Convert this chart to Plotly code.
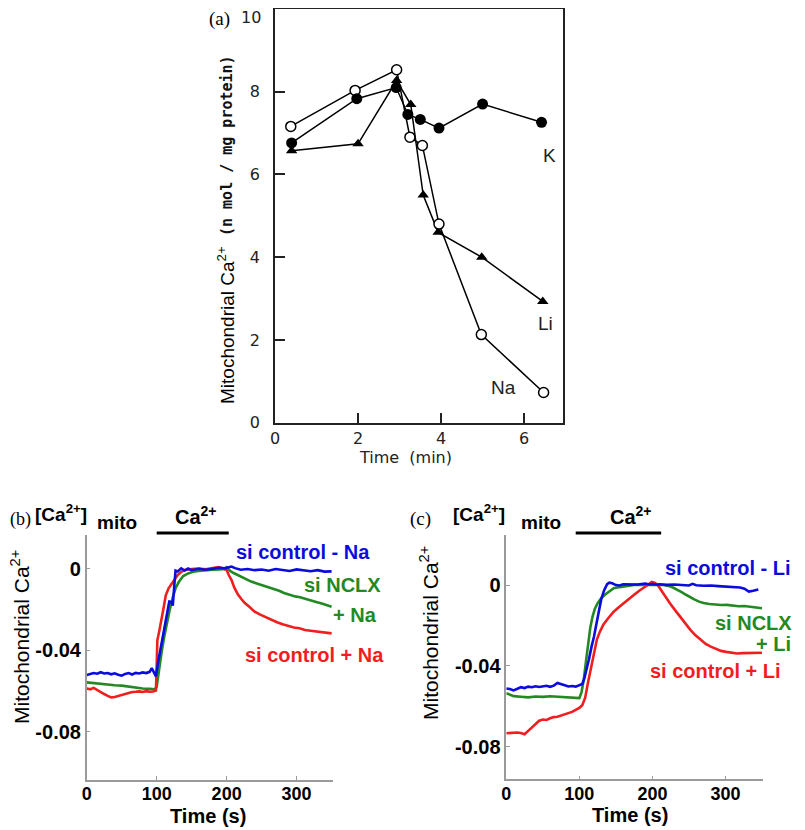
import plotly.graph_objects as go

# ---------------- Panel (a) data ----------------
TIME_K = [0.4, 1.97, 2.92, 3.2, 3.5, 3.95, 5.0, 6.42]
CA_K = [6.76, 7.83, 8.1, 7.45, 7.33, 7.12, 7.7, 7.26]
TIME_NA = [0.38, 1.93, 2.93, 3.25, 3.55, 3.95, 4.97, 6.47]
CA_NA = [7.16, 8.03, 8.53, 6.9, 6.7, 4.8, 2.13, 0.73]
TIME_LI = [0.4, 2.0, 2.93, 3.27, 3.57, 3.93, 4.98, 6.45]
CA_LI = [6.57, 6.74, 8.27, 7.69, 5.5, 4.6, 4.0, 2.93]
A_XTICKS = [0, 2, 4, 6]
A_YTICKS = [0, 2, 4, 6, 8, 10]
A_YTICKTEXT = ["0", "2", "4", "6", "8", ""]
A_TOP_LABEL = "10"

# ---------------- Panel (b) data (Na) ----------------
B_BLUE_T = [0, 5, 10, 15, 20, 25, 30, 35, 40, 45, 50, 55, 60, 65, 70, 75, 80, 85, 90, 93, 96, 99,
            102, 106, 110, 114, 118, 121, 123, 125, 127, 130, 135, 140, 145, 150, 160, 170, 180, 190,
            197, 202, 207, 212, 220, 230, 240, 250, 260, 270, 280, 290, 300, 310, 320, 330, 340, 350]
B_BLUE_V = [-0.0522, -0.0518, -0.0512, -0.0515, -0.0508, -0.0514, -0.0512, -0.0518, -0.0513, -0.0520,
            -0.0525, -0.0516, -0.0512, -0.0519, -0.0511, -0.0514, -0.0509, -0.0512, -0.0506, -0.0488,
            -0.0512, -0.0528, -0.0460, -0.0380, -0.0310, -0.0240, -0.0160, -0.0162, -0.0180, -0.0090,
            -0.0008, -0.0012, 0.0003, -0.0008, 0.0002, -0.0006, 0.0001, -0.0004, 0.0002, 0.0006,
            0.0003, 0.0008, 0.0012, 0.0004, -0.0004, 0.0000, -0.0006, -0.0003, -0.0009, 0.0000,
            -0.0005, -0.0010, -0.0002, -0.0008, -0.0011, -0.0006, -0.0013, -0.0012]

B_GREEN_T = [0, 10, 20, 30, 40, 50, 60, 70, 80, 90, 97, 100, 103, 107, 111, 115, 119, 123, 127, 132,
             138, 145, 152, 160, 170, 180, 190, 197, 200, 205, 210, 216, 222, 228, 235, 242, 250, 256,
             262, 268, 275, 282, 290, 298, 305, 312, 320, 328, 336, 344, 350]
B_GREEN_V = [-0.0558, -0.0562, -0.0566, -0.0568, -0.0572, -0.0574, -0.0579, -0.0584, -0.0588, -0.0590,
             -0.0592, -0.0580, -0.0500, -0.0410, -0.0330, -0.0260, -0.0195, -0.0140, -0.0095, -0.0062,
             -0.0035, -0.0022, -0.0014, -0.0010, -0.0006, -0.0004, -0.0003, 0.0000, 0.0008, -0.0010,
             -0.0020, -0.0030, -0.0042, -0.0052, -0.0062, -0.0070, -0.0079, -0.0088, -0.0092, -0.0098,
             -0.0107, -0.0118, -0.0128, -0.0135, -0.0139, -0.0145, -0.0153, -0.0162, -0.0170, -0.0179,
             -0.0186]

B_RED_T = [0, 5, 10, 15, 20, 25, 30, 35, 40, 45, 50, 55, 60, 65, 70, 75, 80, 85, 90, 95, 99, 100,
           101, 104, 107, 110, 113, 117, 121, 125, 130, 135, 140, 150, 160, 170, 180, 188, 195, 200,
           203, 207, 211, 216, 221, 226, 232, 240, 248, 256, 264, 272, 280, 288, 296, 304, 312, 320,
           328, 336, 344, 350]
B_RED_V = [-0.0588, -0.0592, -0.0585, -0.0596, -0.0603, -0.0615, -0.0624, -0.0632, -0.0630, -0.0625,
           -0.0620, -0.0613, -0.0608, -0.0605, -0.0604, -0.0602, -0.0605, -0.0601, -0.0604, -0.0603,
           -0.0598, -0.0500, -0.0350, -0.0300, -0.0250, -0.0190, -0.0130, -0.0095, -0.0075, -0.0052,
           -0.0030, -0.0015, -0.0005, 0.0000, 0.0002, -0.0002, 0.0004, 0.0009, 0.0002, -0.0005,
           -0.0030, -0.0055, -0.0092, -0.0125, -0.0148, -0.0168, -0.0185, -0.0210, -0.0225, -0.0238,
           -0.0252, -0.0262, -0.0272, -0.0280, -0.0288, -0.0292, -0.0300, -0.0304, -0.0308, -0.0312,
           -0.0314, -0.0317]

# ---------------- Panel (c) data (Li) ----------------
C_BLUE_T = [0, 5, 10, 15, 20, 25, 30, 35, 40, 45, 50, 55, 60, 65, 70, 75, 80, 85, 90, 95, 100, 104,
            107, 110, 113, 117, 120, 124, 127, 130, 134, 138, 141, 145, 150, 155, 160, 170, 180, 190,
            196, 200, 205, 210, 220, 230, 240, 250, 255, 260, 270, 280, 290, 300, 310, 320, 326, 332,
            338, 345]
C_BLUE_V = [-0.0512, -0.0515, -0.0522, -0.0512, -0.0506, -0.0510, -0.0503, -0.0506, -0.0501, -0.0505,
            -0.0502, -0.0499, -0.0504, -0.0498, -0.0485, -0.0492, -0.0496, -0.0502, -0.0500, -0.0503,
            -0.0497, -0.0490, -0.0460, -0.0420, -0.0370, -0.0300, -0.0256, -0.0180, -0.0124, -0.0070,
            -0.0025, 0.0005, 0.0012, 0.0009, 0.0000, -0.0002, 0.0004, 0.0002, 0.0003, 0.0008,
            0.0003, 0.0006, 0.0002, 0.0004, 0.0001, 0.0003, 0.0000, -0.0002, 0.0006, -0.0001,
            -0.0003, -0.0002, -0.0005, -0.0008, -0.0009, -0.0012, -0.0018, -0.0032, -0.0028, -0.0022]

C_GREEN_T = [0, 5, 10, 20, 30, 40, 50, 60, 70, 80, 90, 97, 100, 103, 106, 109, 112, 115, 118, 121,
             125, 130, 135, 140, 147, 155, 165, 175, 185, 195, 205, 215, 222, 228, 234, 240, 246, 252,
             258, 264, 270, 278, 286, 294, 302, 310, 318, 326, 334, 342, 350]
C_GREEN_V = [-0.0536, -0.0545, -0.0550, -0.0553, -0.0556, -0.0552, -0.0554, -0.0551, -0.0553, -0.0556,
             -0.0558, -0.0561, -0.0560, -0.0530, -0.0470, -0.0380, -0.0290, -0.0210, -0.0157, -0.0120,
             -0.0090, -0.0065, -0.0048, -0.0035, -0.0016, -0.0010, -0.0004, 0.0000, 0.0002, 0.0000,
             0.0001, 0.0000, -0.0004, -0.0012, -0.0022, -0.0035, -0.0048, -0.0062, -0.0072, -0.0082,
             -0.0089, -0.0094, -0.0097, -0.0099, -0.0098, -0.0102, -0.0105, -0.0104, -0.0108, -0.0112,
             -0.0115]

C_RED_T = [0, 5, 10, 15, 20, 25, 30, 35, 40, 45, 50, 55, 60, 65, 70, 75, 80, 85, 90, 95, 100, 104,
           108, 112, 116, 120, 124, 128, 133, 140, 147, 154, 161, 168, 175, 182, 189, 195, 199, 203,
           207, 212, 217, 224, 231, 238, 245, 252, 259, 266, 273, 280, 287, 294, 301, 308, 316, 324,
           332, 340, 350]
C_RED_V = [-0.0734, -0.0733, -0.0730, -0.0730, -0.0733, -0.0739, -0.0722, -0.0705, -0.0692, -0.0672,
           -0.0666, -0.0668, -0.0660, -0.0654, -0.0652, -0.0646, -0.0641, -0.0635, -0.0628, -0.0618,
           -0.0608, -0.0595, -0.0558, -0.0480, -0.0410, -0.0325, -0.0270, -0.0232, -0.0195, -0.0162,
           -0.0132, -0.0110, -0.0088, -0.0068, -0.0048, -0.0028, -0.0012, 0.0004, 0.0016, 0.0012,
           0.0002, -0.0025, -0.0058, -0.0090, -0.0124, -0.0158, -0.0192, -0.0222, -0.0249, -0.0272,
           -0.0292, -0.0305, -0.0316, -0.0326, -0.0331, -0.0334, -0.0339, -0.0337, -0.0336, -0.0338,
           -0.0335]

BC_XTICKS = [0, 100, 200, 300]
BC_YTICKS = [-0.08, -0.04, 0]
BC_YTICKTEXT = ["-0.08", "-0.04", "0"]
B_CA_PERIOD = [100, 203]
C_CA_PERIOD = [95, 212]

BLUE = "#0b0be0"
GREEN = "#238a23"
RED = "#f01e1e"
W, H = 805, 830
PAGE_OFFSET = 8  # the page body margin shifts the figure by 8 px right and down


def px(x):
    return (x - PAGE_OFFSET) / W


def py(y):
    return min(1.0, 1 - (y - PAGE_OFFSET) / H)


fig = go.Figure()

# Panel (a)
fig.add_trace(go.Scatter(x=TIME_LI, y=CA_LI, xaxis="x", yaxis="y", mode="lines+markers",
                         line=dict(color="black", width=1.5),
                         marker=dict(symbol="triangle-up", size=10, color="black")))
fig.add_trace(go.Scatter(x=TIME_NA, y=CA_NA, xaxis="x", yaxis="y", mode="lines+markers",
                         line=dict(color="black", width=1.5),
                         marker=dict(symbol="circle", size=10, color="white",
                                     line=dict(color="black", width=1.5))))
fig.add_trace(go.Scatter(x=TIME_K, y=CA_K, xaxis="x", yaxis="y", mode="lines+markers",
                         line=dict(color="black", width=1.5),
                         marker=dict(symbol="circle", size=11, color="black")))

# Panel (b)
for t, v, c in [(B_GREEN_T, B_GREEN_V, GREEN), (B_RED_T, B_RED_V, RED), (B_BLUE_T, B_BLUE_V, BLUE)]:
    fig.add_trace(go.Scatter(x=t, y=v, xaxis="x2", yaxis="y2", mode="lines",
                             line=dict(color=c, width=2.6)))
# Panel (c)
for t, v, c in [(C_GREEN_T, C_GREEN_V, GREEN), (C_RED_T, C_RED_V, RED), (C_BLUE_T, C_BLUE_V, BLUE)]:
    fig.add_trace(go.Scatter(x=t, y=v, xaxis="x3", yaxis="y3", mode="lines",
                             line=dict(color=c, width=2.6)))

a_font = dict(family="DejaVu Sans", size=16, color="#222")
bc_tick_font_y = dict(family="Liberation Sans", size=20, color="black", weight="bold")
bc_tick_font_x = dict(family="Liberation Sans", size=18, color="black", weight="bold")

fig.update_layout(
    width=W, height=H, margin=dict(l=0, r=0, t=0, b=0, autoexpand=False),
    paper_bgcolor="white", plot_bgcolor="rgba(0,0,0,0)", showlegend=False,
    xaxis=dict(domain=[px(275), px(562.7)], range=[0, 6.93], anchor="y",
               showline=True, mirror=True, linecolor="#222", linewidth=1.6,
               ticks="inside", ticklen=10, tickwidth=1.5, tickcolor="#222",
               tickvals=A_XTICKS, showgrid=False, zeroline=False, tickfont=a_font),
    yaxis=dict(domain=[py(422.7), py(8.5)], range=[0, 10.01], anchor="x",
               showline=True, mirror=True, linecolor="#222", linewidth=1.6,
               ticks="inside", ticklen=10, tickwidth=1.5, tickcolor="#222",
               tickvals=A_YTICKS, ticktext=A_YTICKTEXT, showgrid=False, zeroline=False,
               tickfont=a_font, ticklabelstandoff=10),
    xaxis2=dict(domain=[px(86.7), px(333)], range=[0, 352], anchor="y2",
                showline=True, linecolor="#9a9a9a", linewidth=1.5,
                ticks="inside", ticklen=4, tickcolor="#9a9a9a", ticklabelstandoff=-3,
                tickvals=BC_XTICKS, showgrid=False, zeroline=False, tickfont=bc_tick_font_x),
    yaxis2=dict(domain=[py(780), py(535)], range=[-0.1038, 0.0167], anchor="x2",
                showline=True, linecolor="#9a9a9a", linewidth=1.5,
                ticks="inside", ticklen=4, tickcolor="#9a9a9a",
                tickvals=BC_YTICKS, ticktext=BC_YTICKTEXT,
                showgrid=False, zeroline=False, tickfont=bc_tick_font_y),
    xaxis3=dict(domain=[px(506.3), px(762.7)], range=[0, 351], anchor="y3",
                showline=True, linecolor="#9a9a9a", linewidth=1.5,
                ticks="inside", ticklen=4, tickcolor="#9a9a9a", ticklabelstandoff=-3,
                tickvals=BC_XTICKS, showgrid=False, zeroline=False, tickfont=bc_tick_font_x),
    yaxis3=dict(domain=[py(779.3), py(535)], range=[-0.0962, 0.0248], anchor="x3",
                showline=True, linecolor="#9a9a9a", linewidth=1.5,
                ticks="inside", ticklen=4, tickcolor="#9a9a9a",
                tickvals=BC_YTICKS, ticktext=BC_YTICKTEXT,
                showgrid=False, zeroline=False, tickfont=bc_tick_font_y),
)

ann = []


def add(text, x, y, size, color="black", family="Liberation Sans", xanchor="center",
        angle=0, weight="normal"):
    ann.append(dict(text=text, x=px(x), y=py(y), xref="paper", yref="paper", showarrow=False,
                    xanchor=xanchor, yanchor="middle", textangle=angle,
                    font=dict(family=family, size=size, color=color, weight=weight)))


# Panel labels
add("(a)", 219, 19, 19, family="Liberation Serif")
add("(b)", 8, 519, 18, family="Liberation Serif", xanchor="left")
add("(c)", 420, 519, 19, family="Liberation Serif")

# Panel (a) texts
add(A_TOP_LABEL, 263, 17, 16, family="DejaVu Sans", color="#222", xanchor="right")
add("Mitochondrial Ca<sup>2+</sup>", 226, 325, 19, angle=-90)
add("(n mol / mg protein)", 227, 146, 15, family="DejaVu Sans Mono", angle=-90, color="#111",
    weight="bold")
add("Time  (min)", 405, 457, 16, family="DejaVu Sans", color="#222")
add("K", 549, 156, 19, color="#222")
add("Li", 545, 323, 19, color="#222")
add("Na", 503, 387, 19, color="#222")

# Panel (b) texts
add("Mitochondrial Ca<sup>2+</sup>", 20, 637, 21, angle=-90)
add("Time (s)", 208, 816, 20, weight="bold")
add("[Ca<sup>2+</sup>]", 33, 513, 19, xanchor="left", weight="bold")
add("mito", 95, 522, 19, xanchor="left", weight="bold")
add("Ca<sup>2+</sup>", 196, 515, 20, weight="bold")
add("si control - Na", 372, 552, 20, color=BLUE, xanchor="right", weight="bold")
add("si NCLX", 383, 585, 20, color=GREEN, xanchor="right", weight="bold")
add("+ Na", 379, 615, 20, color=GREEN, xanchor="right", weight="bold")
add("si control + Na", 386, 655, 20, color=RED, xanchor="right", weight="bold")

# Panel (c) texts
add("Mitochondrial Ca<sup>2+</sup>", 429, 633, 21, angle=-90)
add("Time (s)", 630, 815, 20, weight="bold")
add("[Ca<sup>2+</sup>]", 451, 513, 19, xanchor="left", weight="bold")
add("mito", 519, 522, 19, xanchor="left", weight="bold")
add("Ca<sup>2+</sup>", 631, 515, 20, weight="bold")
add("si control - Li", 793, 568, 20, color=BLUE, xanchor="right", weight="bold")
add("si NCLX", 794, 623, 20, color=GREEN, xanchor="right", weight="bold")
add("+ Li", 793, 644, 20, color=GREEN, xanchor="right", weight="bold")
add("si control + Li", 783, 671, 20, color=RED, xanchor="right", weight="bold")

fig.update_layout(annotations=ann)

# Ca2+ addition bars
fig.add_shape(type="line", xref="x2", yref="paper", x0=B_CA_PERIOD[0], x1=B_CA_PERIOD[1],
              y0=py(533), y1=py(533), line=dict(color="black", width=3.2))
fig.add_shape(type="line", xref="x3", yref="paper", x0=C_CA_PERIOD[0], x1=C_CA_PERIOD[1],
              y0=py(533), y1=py(533), line=dict(color="black", width=3.2))

fig.write_html("out.html")
